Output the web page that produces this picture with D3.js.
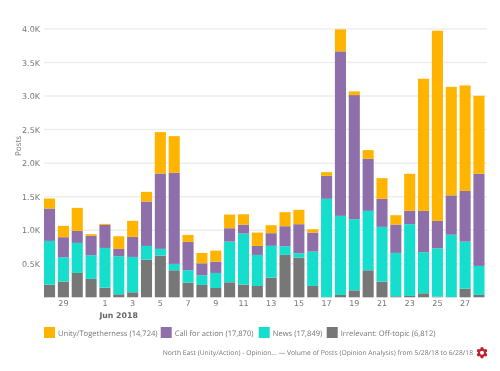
<!DOCTYPE html>
<html>
    <head>
        <title>Volume of Posts</title>
        <script src="https://d3js.org/d3.v7.min.js"></script>
        <style>
            html, body { margin: 0; padding: 0; background: #fff; }
            svg { display: block; filter: blur(0.45px); text-rendering: geometricPrecision; }
        </style>
    </head>
    <body>
        <svg width="500" height="371"></svg>
        <script>
            // days, May 28 to Jun 28
            const days = ["5/28","5/29","5/30","5/31","6/1","6/2","6/3","6/4","6/5","6/6","6/7","6/8","6/9","6/10","6/11","6/12","6/13","6/14","6/15","6/16","6/17","6/18","6/19","6/20","6/21","6/22","6/23","6/24","6/25","6/26","6/27","6/28"];
            const irrelevant = [189,234,363,274,144,45,75,562,622,403,219,184,139,224,189,169,294,632,592,169,5,35,104,403,234,15,20,60,10,3,129,35];
            const news = [652,363,448,353,592,567,527,204,100,95,184,144,224,607,761,463,473,129,65,512,1463,1179,1060,886,816,647,1070,612,721,930,701,433];
            const callForAction = [483,299,179,289,343,109,299,662,1124,1358,423,179,169,199,134,134,189,299,433,284,343,2453,1851,776,418,423,199,617,408,587,756,1373];
            const unity = [149,169,343,25,15,189,239,144,617,547,104,154,164,204,154,199,119,209,214,50,55,328,55,129,308,139,552,1970,2836,1617,1573,1163];

            const dayTicks = ["5/29","6/1","6/3","6/5","6/7","6/9","6/11","6/13","6/15","6/17","6/19","6/21","6/23","6/25","6/27"];
            const yTicks = [500,1000,1500,2000,2500,3000,3500,4000];

            const seriesNames = ["irrelevant","news","call","unity"];
            const seriesValues = { irrelevant: irrelevant, news: news, call: callForAction, unity: unity };
            const colors = { irrelevant: "#777777", news: "#15dfcc", call: "#8e6faa", unity: "#ffb400" };
            const legendLabels = ["Unity/Togetherness (14,724)","Call for action (17,870)","News (17,849)","Irrelevant: Off-topic (6,812)"];
            const legendKeys = ["unity","call","news","irrelevant"];

            const svg = d3.select("svg");
            const textColor = "#777";

            const x = d3.scaleBand().domain(days).range([44, 484.5]).paddingInner(0.2).paddingOuter(0);
            const y = d3.scaleLinear().domain([0, 4000]).range([297.3, 29]);

            // 横グリッド
            svg.append("g")
                .selectAll("line")
                .data(yTicks)
                .join("line")
                .attr("x1", 44)
                .attr("x2", 487)
                .attr("y1", (d) => y(d))
                .attr("y2", (d) => y(d))
                .attr("stroke", "#eeeeee")
                .attr("stroke-width", 1.5);

            // 積み上げ
            const rows = days.map((d, i) => {
                const row = { day: d };
                seriesNames.forEach((s) => { row[s] = seriesValues[s][i]; });
                return row;
            });
            const stacked = d3.stack().keys(seriesNames)(rows);

            svg.append("g")
                .selectAll("g")
                .data(stacked)
                .join("g")
                .attr("fill", (s) => colors[s.key])
                .selectAll("rect")
                .data((s) => s)
                .join("rect")
                .attr("x", (d) => x(d.data.day))
                .attr("y", (d) => y(d[1]))
                .attr("width", x.bandwidth())
                .attr("height", (d) => y(d[0]) - y(d[1]));

            // 軸
            const yAxis = d3.axisLeft(y).tickValues(yTicks).tickSize(0).tickPadding(3)
                .tickFormat((d) => (d / 1000).toFixed(1) + "K");
            const gy = svg.append("g").attr("transform", "translate(43,0)").call(yAxis);
            gy.select(".domain").remove();
            gy.selectAll("text").attr("font-family", "'DejaVu Sans'").attr("font-size", 8).attr("fill", textColor);

            const xAxis = d3.axisBottom(x).tickValues(dayTicks).tickSize(0).tickPadding(3)
                .tickFormat((d) => d.split("/")[1]);
            const gx = svg.append("g").attr("transform", "translate(0,297.5)").call(xAxis);
            gx.select(".domain").remove();
            gx.selectAll("text").attr("font-family", "'DejaVu Sans'").attr("font-size", 8).attr("fill", textColor);

            svg.append("text")
                .attr("x", x("6/1"))
                .attr("y", 318)
                .attr("font-family", "'DejaVu Sans'")
                .attr("font-size", 7.8)
                .attr("font-weight", "bold")
                .attr("fill", "#666")
                .text("Jun 2018");

            svg.append("text")
                .attr("transform", "translate(21,146) rotate(-90)")
                .attr("text-anchor", "middle")
                .attr("font-family", "'Open Sans'")
                .attr("font-size", 8)
                .attr("fill", textColor)
                .text("Posts");

            // 凡例
            const legendX = [44, 160.7, 258.7, 326.7];
            const legend = svg.append("g")
                .selectAll("g")
                .data(legendKeys)
                .join("g")
                .attr("transform", (d, i) => `translate(${legendX[i]},327)`);
            legend.append("rect")
                .attr("width", 11)
                .attr("height", 11)
                .attr("fill", (d) => colors[d]);
            legend.append("text")
                .attr("x", 14)
                .attr("y", 8.7)
                .attr("font-family", "'Open Sans'")
                .attr("font-size", 7.6)
                .attr("fill", textColor)
                .text((d, i) => legendLabels[i]);

            // フッター
            svg.append("text")
                .attr("x", 473)
                .attr("y", 355)
                .attr("text-anchor", "end")
                .attr("font-family", "'Open Sans'")
                .attr("font-size", 6.75)
                .attr("fill", textColor)
                .text("North East (Unity/Action) - Opinion... \u2014 Volume of Posts (Opinion Analysis) from 5/28/18 to 6/28/18");

            // 歯車アイコン
            const gear = svg.append("g").attr("transform", "translate(482,352.7)");
            gear.selectAll("circle.tooth")
                .data(d3.range(6))
                .join("circle")
                .attr("class", "tooth")
                .attr("cx", (d) => 4 * Math.cos((d * Math.PI) / 3 + Math.PI / 2))
                .attr("cy", (d) => 4 * Math.sin((d * Math.PI) / 3 + Math.PI / 2))
                .attr("r", 1.7)
                .attr("fill", "#c0202f");
            gear.append("circle")
                .attr("r", 3)
                .attr("fill", "none")
                .attr("stroke", "#c0202f")
                .attr("stroke-width", 2);
        </script>
    </body>
</html>
